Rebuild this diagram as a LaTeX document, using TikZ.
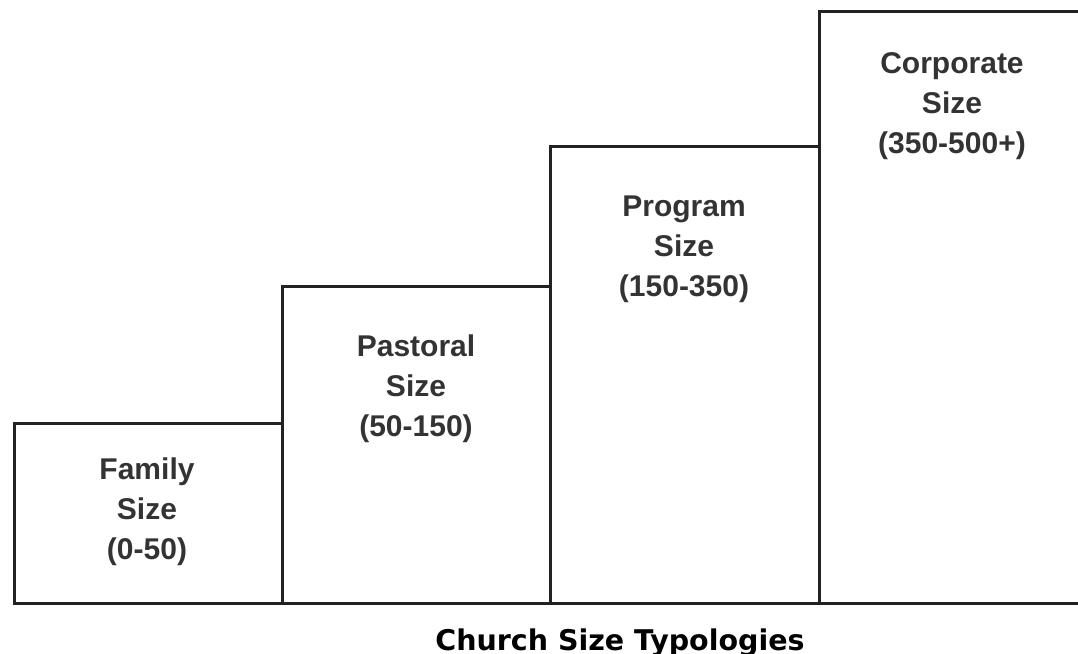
\documentclass[tikz,border=0pt]{standalone}
\usepackage{fontspec}
\newfontfamily\lblfont{Liberation Sans}
\newfontfamily\ttlfont{DejaVu Sans}
\definecolor{edgegray}{HTML}{222222}
\definecolor{textgray}{HTML}{333333}
\tikzset{
  sizebox/.style={draw=edgegray, line width=3pt, anchor=south west, inner sep=0pt, minimum height=#1},
  sizelbl/.style={text=textgray, align=center, font=\lblfont\bfseries\fontsize{30}{40}\selectfont}
}

\begin{document}
\begin{tikzpicture}[x=1pt,y=-1pt]
  \useasboundingbox (0,0) rectangle (1078,653);
  % boxes
  \node[sizebox=180pt, minimum width=268pt] (family) at (13,605) {};
  \node[sizebox=317pt, minimum width=268pt] (pastoral) at (281,605) {};
  \node[sizebox=457pt, minimum width=269pt] (program) at (549,605) {};
  \node[sizebox=592pt, minimum width=280pt] (corporate) at (818,605) {};
  % labels
  \node[sizelbl] (familylbl) at (147,512) {Family\\Size\\(0-50)};
  \node[sizelbl] (pastorallbl) at (416,389) {Pastoral\\Size\\(50-150)};
  \node[sizelbl] (programlbl) at (684,249) {Program\\Size\\(150-350)};
  \node[sizelbl] (corporatelbl) at (952,106) {Corporate\\Size\\(350-500+)};
  % title
  \node[anchor=base, font=\ttlfont\bfseries\fontsize{28.5}{34}\selectfont] (title) at (620,650) {Church Size Typologies};
\end{tikzpicture}
\end{document}
